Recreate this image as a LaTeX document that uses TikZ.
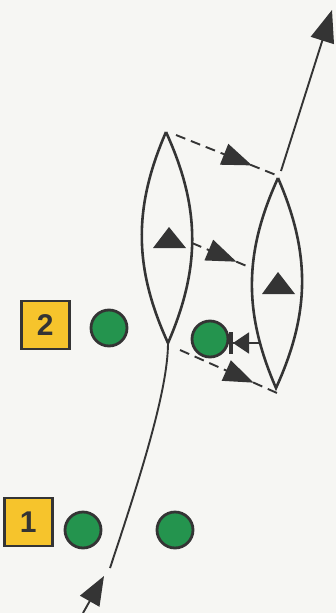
\documentclass[tikz,border=0pt]{standalone}
\usepackage{fontspec}
\setsansfont{Liberation Sans}
\usetikzlibrary{positioning, arrows.meta, decorations.markings}

\definecolor{paper}{RGB}{246,246,243}
\definecolor{playergreen}{RGB}{36,148,78}
\definecolor{boxyellow}{RGB}{246,196,44}
\definecolor{ink}{RGB}{52,52,52}

\tikzset{
  player/.style={circle, draw=ink, line width=2.8pt, fill=playergreen,
                 minimum size=36pt, inner sep=0pt},
  numbox/.style={rectangle, draw=ink, line width=2.6pt, fill=boxyellow,
                 minimum size=48pt, inner sep=0pt, text=ink,
                 font=\sffamily\bfseries\fontsize{30}{30}\selectfont},
  lens/.style={line width=2.6pt, draw=ink},
  run/.style={line width=1.9pt, draw=ink},
  bighead/.style={-{Triangle[length=32pt,width=24pt]}},
  dashpass/.style={run, dash pattern=on 10pt off 6pt, postaction={decorate},
                   decoration={markings, mark=at position #1 with
                   {\arrow{Triangle[length=30pt,width=22pt]}}}}
}

\begin{document}
\begin{tikzpicture}[x=1pt, y=-1pt]
    \fill[paper] (0,0) rectangle (336,613);
    \useasboundingbox (0,0) rectangle (336,613);

    % players
    \node[player] (p2) at (109,328) {};
    \node[player] (p3) at (210,339) {};
    \node[player] (p1a) at (83,530) {};
    \node[player] (p1b) at (175,530) {};
    \node[numbox, left=19pt of p2, yshift=3pt] (n2) {2};
    \node[numbox, left=10pt of p1a, yshift=8pt] (n1) {1};

    % lenses
    \coordinate (lt) at (166,132);
    \coordinate (lb) at (168,343);
    \coordinate (rt) at (278,178);
    \coordinate (rb) at (276,388);
    \draw[lens] (lt) to[bend left=24] (lb) to[bend left=24] (lt);
    \draw[lens] (rt) to[bend left=24] (rb) to[bend left=24] (rt);

    \fill[ink] (153,248) -- (186,248) -- (169,227) -- cycle;
    \fill[ink] (262,294) -- (295,294) -- (278,272) -- cycle;

    % runs
    \coordinate (start) at (83,613);
    \coordinate (tip) at (104,576);
    \coordinate (resume) at (110,568);
    \coordinate (rtup) at (281,171);
    \coordinate (goal) at (332,10);
    \draw[run, -{Triangle[length=29pt,width=22pt]}] (start) -- (tip);
    \draw[run] (resume) .. controls (140,478) and (168,390) .. (lb);
    \draw[run, bighead] (rtup) -- (goal);

    % passes
    \coordinate (l1) at (176,135);
    \coordinate (r1) at (276,175);
    \coordinate (l2) at (192,243);
    \coordinate (r2) at (249,267);
    \coordinate (l3) at (180,350);
    \coordinate (r3) at (277,393);
    \draw[dashpass=0.76] (l1) -- (r1);
    \draw[dashpass=0.78] (l2) -- (r2);
    \draw[dashpass=0.76] (l3) -- (r3);

    % block
    \coordinate (rhit) at (261,343);
    \draw[run, -{Triangle[length=16pt,width=21pt]Bar[width=22pt,line width=4pt]}]
        (rhit) -- (229,343);
\end{tikzpicture}
\end{document}
